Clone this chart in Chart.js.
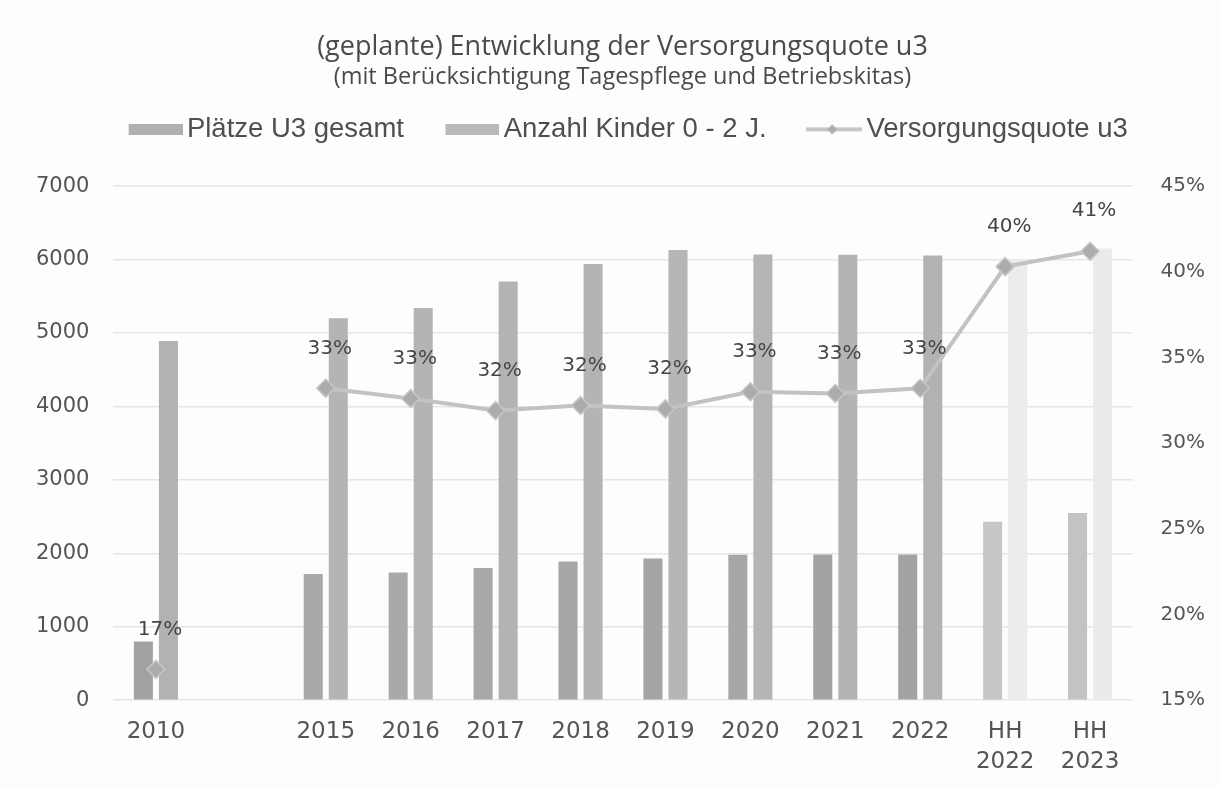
<!DOCTYPE html>
<html lang="de">
<head>
<meta charset="UTF-8">
<title>Versorgungsquote u3</title>
<script src="https://cdn.jsdelivr.net/npm/chart.js"></script>
<style>
    * { margin: 0; padding: 0; box-sizing: border-box; }
    body { background: #fdfdfd; }
    .wrap { width: 1219px; height: 788px; position: relative; }
</style>
</head>
<body>
<div class="wrap"><canvas id="chart"></canvas></div>
<script>
// Kategorien (leere Kategorie zwischen 2010 und 2015 wie im Original)
const categories = ['2010', '', '2015', '2016', '2017', '2018', '2019', '2020', '2021', '2022', ['HH', '2022'], ['HH', '2023']];

// Plätze U3 gesamt
const plaetze = [800, null, 1720, 1740, 1800, 1890, 1930, 1980, 1985, 1985, 2430, 2550];
// Anzahl Kinder 0 - 2 J.
const kinder = [4890, null, 5200, 5340, 5700, 5940, 6130, 6070, 6065, 6055, 6000, 6150];
// Versorgungsquote u3
const quote = [0.168, null, 0.332, 0.326, 0.319, 0.322, 0.320, 0.330, 0.329, 0.332, 0.403, 0.412];

const leftTicks = [0, 1000, 2000, 3000, 4000, 5000, 6000, 7000];
const rightTicks = [0.15, 0.20, 0.25, 0.30, 0.35, 0.40, 0.45];

const plaetzeColors = ['#a2a2a2', null, '#a9a9a9', '#a9a9a9', '#a8a8a8', '#a6a6a6', '#a5a5a5', '#a7a7a7', '#a3a3a3', '#a2a2a2', '#c6c6c6', '#c3c3c3'];
const kinderColors = ['#b2b2b2', null, '#b4b4b4', '#b4b4b4', '#b3b3b3', '#b4b4b4', '#b6b6b6', '#b5b5b5', '#b4b4b4', '#b2b2b2', '#ececec', '#ebebeb'];

const FONT = '"DejaVu Sans", Verdana, sans-serif';

// Legenden-Symbole als Canvas-Bilder (links transparent, damit die Abstände passen)
const ICON_W = 75;
function boxIcon(color) {
    const c = document.createElement('canvas');
    c.width = ICON_W; c.height = 11;
    const g = c.getContext('2d');
    g.fillStyle = color;
    g.fillRect(ICON_W - 54, 0, 54, 11);
    return c;
}
function lineIcon() {
    const c = document.createElement('canvas');
    c.width = ICON_W; c.height = 14;
    const g = c.getContext('2d');
    const x0 = ICON_W - 56;
    g.strokeStyle = '#c6c6c6';
    g.lineWidth = 4;
    g.beginPath(); g.moveTo(x0, 7); g.lineTo(ICON_W, 7); g.stroke();
    g.fillStyle = '#acacac';
    const cx = x0 + 26;
    g.beginPath(); g.moveTo(cx, 2); g.lineTo(cx + 5, 7); g.lineTo(cx, 12); g.lineTo(cx - 5, 7); g.closePath(); g.fill();
    return c;
}
const legendIcons = [boxIcon('#b0b0b0'), boxIcon('#b9b9b9'), lineIcon()];

// Prozent-Beschriftungen über den Punkten
const pointLabels = {
    id: 'pointLabels',
    afterDatasetsDraw(chart) {
        const meta = chart.getDatasetMeta(2);
        const ctx = chart.ctx;
        ctx.save();
        ctx.font = '20px ' + FONT;
        ctx.fillStyle = '#454545';
        ctx.textAlign = 'center';
        ctx.textBaseline = 'middle';
        meta.data.forEach((pt, i) => {
            if (quote[i] == null) return;
            ctx.fillText(Math.round(quote[i] * 100) + '%', pt.x + 4, pt.y - 40);
        });
        ctx.restore();
    }
};

// mehr Abstand unter der Legende
const legendGap = {
    id: 'legendGap',
    afterInit(chart) {
        const lg = chart.legend;
        const fit = lg.fit.bind(lg);
        lg.fit = function () { fit(); this.height += 33; };
    }
};

new Chart(document.getElementById('chart'), {
    data: {
        labels: categories,
        datasets: [
            {
                type: 'bar',
                label: 'Plätze U3 gesamt',
                data: plaetze,
                backgroundColor: plaetzeColors,
                yAxisID: 'y',
                order: 2,
                categoryPercentage: 0.59,
                barPercentage: 0.76
            },
            {
                type: 'bar',
                label: 'Anzahl Kinder 0 - 2 J.',
                data: kinder,
                backgroundColor: kinderColors,
                yAxisID: 'y',
                order: 2,
                categoryPercentage: 0.59,
                barPercentage: 0.76
            },
            {
                type: 'line',
                label: 'Versorgungsquote u3',
                data: quote,
                yAxisID: 'y1',
                order: 1,
                borderColor: '#c2c2c2',
                borderWidth: 4,
                spanGaps: false,
                pointStyle: 'rectRot',
                pointRadius: 9,
                pointBackgroundColor: '#acacac',
                pointBorderColor: '#c6c6c6',
                pointBorderWidth: 1.5
            }
        ]
    },
    options: {
        responsive: true,
        maintainAspectRatio: false,
        animation: false,
        layout: { padding: { top: 31, left: 12, right: -14, bottom: -6 } },
        plugins: {
            title: {
                display: true,
                text: '(geplante) Entwicklung der Versorgungsquote u3',
                color: '#4a4a4a',
                font: { family: '"Open Sans", sans-serif', size: 27, weight: 'normal' },
                padding: { top: 0, bottom: 0 }
            },
            subtitle: {
                display: true,
                text: '(mit Berücksichtigung Tagespflege und Betriebskitas)',
                color: '#4a4a4a',
                font: { family: '"Open Sans", sans-serif', size: 23.5 },
                padding: { top: 0, bottom: -6 }
            },
            legend: {
                position: 'top',
                labels: {
                    usePointStyle: true,
                    pointStyleWidth: 56,
                    color: '#4f4f4f',
                    font: { family: '"Liberation Sans", Arial, sans-serif', size: 27.5 },
                    padding: 30,
                    sort: (a, b) => a.datasetIndex - b.datasetIndex,
                    generateLabels(chart) {
                        const items = Chart.defaults.plugins.legend.labels.generateLabels(chart);
                        items.forEach(it => { it.pointStyle = legendIcons[it.datasetIndex]; });
                        return items;
                    }
                }
            },
            tooltip: { enabled: false }
        },
        scales: {
            x: {
                grid: { display: false, drawTicks: false },
                border: { display: false },
                ticks: {
                    color: '#555',
                    font: { family: FONT, size: 23, lineHeight: 1.3 },
                    padding: 17,
                    maxRotation: 0,
                    autoSkip: false
                }
            },
            y: {
                position: 'left',
                min: 0,
                max: 7000,
                afterBuildTicks: axis => { axis.ticks = leftTicks.map(v => ({ value: v })); },
                grid: { color: '#e6e6e6', lineWidth: 1.5, drawTicks: false },
                border: { display: false },
                ticks: {
                    color: '#555',
                    font: { family: FONT, size: 21 },
                    padding: 24,
                    callback: v => String(v)
                }
            },
            y1: {
                position: 'right',
                min: 0.15,
                max: 0.45,
                afterBuildTicks: axis => { axis.ticks = rightTicks.map(v => ({ value: v })); },
                grid: { drawOnChartArea: false, drawTicks: false },
                border: { display: false },
                ticks: {
                    color: '#555',
                    font: { family: FONT, size: 20 },
                    padding: 28,
                    callback: v => Math.round(v * 100) + '%'
                }
            }
        }
    },
    plugins: [pointLabels, legendGap]
});
</script>
</body>
</html>
